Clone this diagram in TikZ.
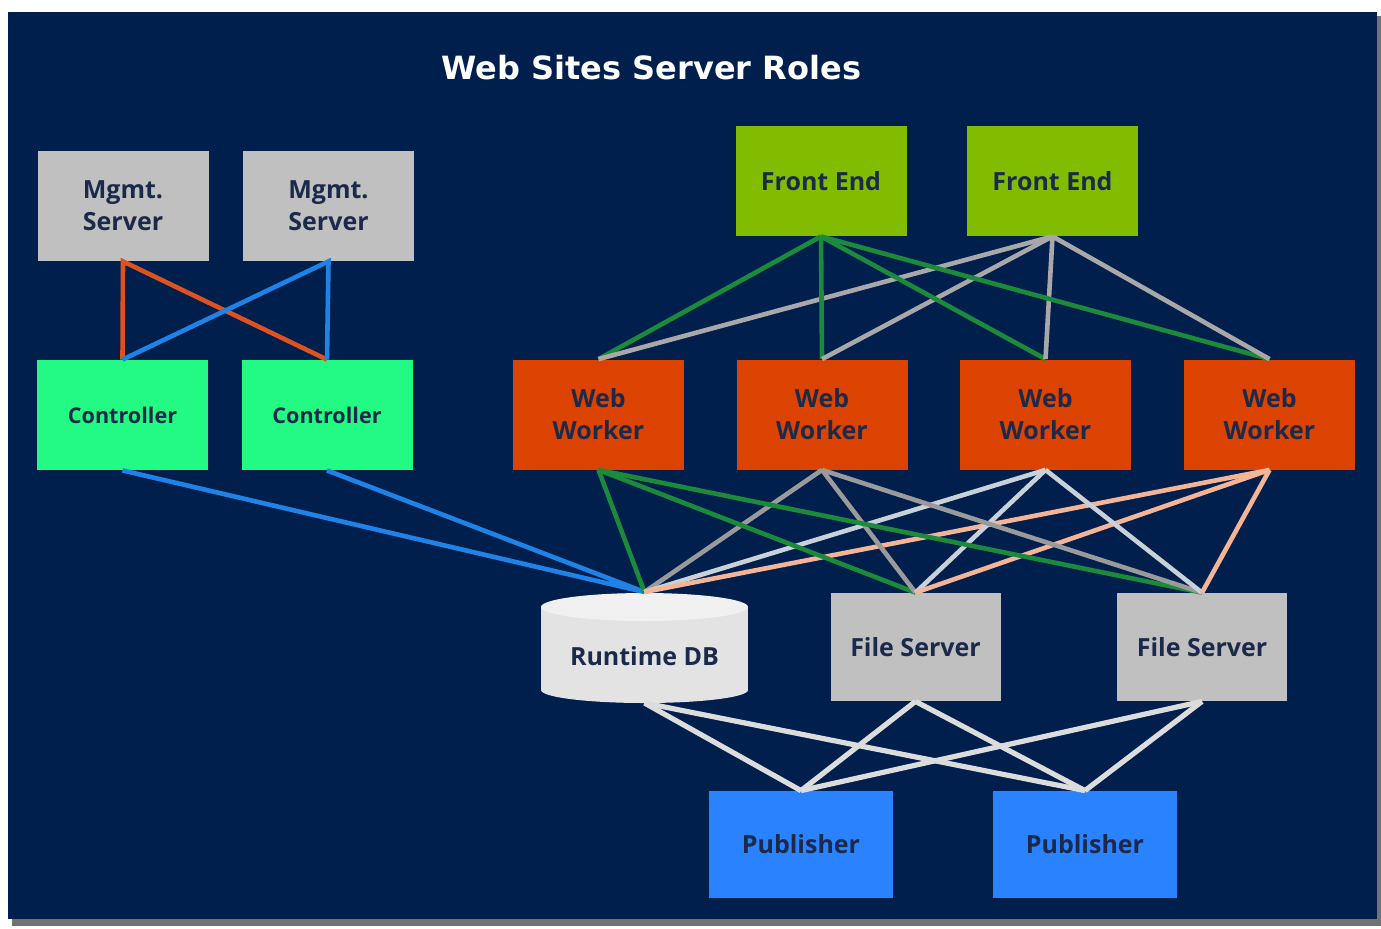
\documentclass[tikz,border=0pt]{standalone}
\usepackage{fontspec}
\setmainfont{Open Sans}
\newfontfamily\titlefont{DejaVu Sans}
\definecolor{bgnavy}{HTML}{001F4D}
\definecolor{textnavy}{HTML}{1B2A4A}
\definecolor{boxgrey}{HTML}{C0C0C0}
\definecolor{ctrlgreen}{HTML}{22FA84}
\definecolor{frontgreen}{HTML}{82BC00}
\definecolor{workerred}{HTML}{DC4300}
\definecolor{pubblue}{HTML}{2B82FF}
\definecolor{lineorange}{HTML}{DD5220}
\definecolor{lineblue}{HTML}{1E82E6}
\definecolor{linegreen}{HTML}{1B8A3A}
\definecolor{linegrey}{HTML}{A8A8A8}
\definecolor{linedark}{HTML}{9A9A9A}
\definecolor{linelight}{HTML}{C8D0D8}
\definecolor{linepeach}{HTML}{F5B496}
\definecolor{linewhite}{HTML}{DCDCDC}
\tikzset{
  srvbox/.style={rectangle, inner sep=0pt, align=center, text=textnavy,
    minimum width=85.5pt, minimum height=55pt,
    font=\bfseries\fontsize{12.5}{16}\selectfont},
  mgmtbox/.style={srvbox, fill=boxgrey},
  ctrlbox/.style={srvbox, fill=ctrlgreen, font=\bfseries\fontsize{10.8}{13}\selectfont},
  frontbox/.style={srvbox, fill=frontgreen},
  workerbox/.style={srvbox, fill=workerred},
  filebox/.style={srvbox, fill=boxgrey, minimum width=85pt, minimum height=54pt},
  pubbox/.style={srvbox, fill=pubblue, minimum width=92pt, minimum height=53.5pt},
  link/.style={line width=2.3pt},
}
\begin{document}
\begin{tikzpicture}[x=0.5pt,y=-0.5pt]
    \useasboundingbox (0,0) rectangle (1381,928);
    % Panel with shadow
    \fill[white] (0,0) rectangle (1381,928);
    \fill[black!55] (12,16) rectangle (1381,926);
    \fill[bgnavy] (8,12) rectangle (1377,919);
    \node[font=\titlefont\bfseries\fontsize{16}{19}\selectfont, text=white] (title) at (651.5,68) {Web Sites Server Roles};
    % Management side
    \node[mgmtbox] (mgmt1) at (123,206) {Mgmt.\\Server};
    \node[mgmtbox] (mgmt2) at (328.5,206) {Mgmt.\\Server};
    \node[ctrlbox] (ctrl1) at (122.5,415) {Controller};
    \node[ctrlbox] (ctrl2) at (327,415) {Controller};
    % Front ends and workers
    \node[frontbox] (fe1) at (821,181) {Front End};
    \node[frontbox] (fe2) at (1052.5,181) {Front End};
    \foreach \i/\x in {1/598.5,2/822,3/1045.5,4/1269.5}
        \node[workerbox] (ww\i) at (\x,414.5) {Web\\Worker};
    % Runtime DB cylinder
    \fill[black!11] (541,607) rectangle (748,690);
    \fill[black!11] (644.5,690) ellipse[x radius=103.5, y radius=13];
    \fill[black!6] (644.5,607) ellipse[x radius=103.5, y radius=14];
    \node[srvbox, minimum height=0pt] (db) at (644.5,656) {Runtime DB};
    \coordinate (dbtop) at (644.5,592);
    \coordinate (dbbot) at (644.5,703);
    \node[filebox] (fs1) at (915.5,647) {File Server};
    \node[filebox] (fs2) at (1202,647) {File Server};
    \node[pubbox] (pub1) at (801,844.5) {Publisher};
    \node[pubbox] (pub2) at (1085,844.5) {Publisher};
    % Links
    \draw[link, lineorange] (ctrl1.north) -- (mgmt1.south) -- (ctrl2.north);
    \draw[link, lineblue] (ctrl1.north) -- (mgmt2.south) -- (ctrl2.north);
    \draw[link, lineblue] (ctrl1.south) -- (dbtop) -- (ctrl2.south);
    \foreach \w in {1,...,4} {
        \draw[link, linegreen] (fe1.south) -- (ww\w.north);
        \draw[link, linegrey] (fe2.south) -- (ww\w.north);
    }
    \foreach \t in {dbtop,fs1.north,fs2.north} {
        \draw[link, linegreen] (ww1.south) -- (\t);
        \draw[link, linedark] (ww2.south) -- (\t);
        \draw[link, linelight] (ww3.south) -- (\t);
        \draw[link, linepeach] (ww4.south) -- (\t);
    }
    \foreach \s in {dbbot,fs1.south,fs2.south} {
        \draw[link, linewhite, line width=2.6pt] (\s) -- (pub1.north);
        \draw[link, linewhite, line width=2.6pt] (\s) -- (pub2.north);
    }
\end{tikzpicture}
\end{document}
